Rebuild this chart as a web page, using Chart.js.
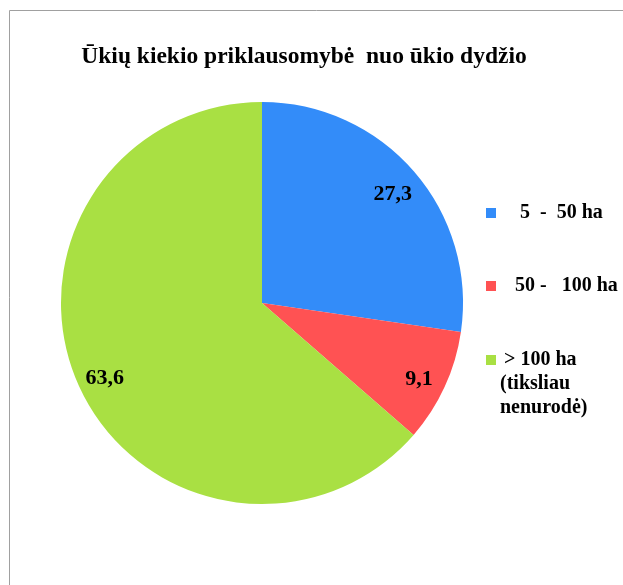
<!DOCTYPE html>
<html>
<head>
<meta charset="utf-8">
<script src="https://cdn.jsdelivr.net/npm/chart.js@4/dist/chart.umd.min.js"></script>
<style>
  html, body { margin: 0; padding: 0; background: #fff; }
  #wrap { width: 623px; height: 585px; position: relative; }
</style>
</head>
<body>
<div id="wrap"><canvas id="chart"></canvas></div>
<script>
// data
let titleText = "Ūkių kiekio priklausomybė  nuo ūkio dydžio";
let categories = ["   5  -  50 ha", "  50 -   100 ha", ["> 100 ha", "(tiksliau", "nenurodė)"]];
let shares = [27.3, 9.1, 63.6];
let colors = ["#338cf9", "#ff5253", "#a9e043"];

let serif = "'Liberation Serif', 'Times New Roman', serif";

// frame, title, value labels and the legend are drawn here
let decorPlugin = {
  id: "decor",
  beforeDraw(chart) {
    let ctx = chart.ctx;
    ctx.save();
    ctx.strokeStyle = "#a0a0a0";
    ctx.lineWidth = 1;
    ctx.beginPath();
    ctx.moveTo(9.5, 585);
    ctx.lineTo(9.5, 10.5);
    ctx.lineTo(623, 10.5);
    ctx.stroke();

    ctx.fillStyle = "#000";
    ctx.font = "bold 23.5px " + serif;
    ctx.textAlign = "center";
    ctx.textBaseline = "alphabetic";
    ctx.fillText(titleText, 304, 63);
    ctx.restore();
  },
  afterDatasetsDraw(chart) {
    let ctx = chart.ctx;
    let meta = chart.getDatasetMeta(0);
    ctx.save();
    ctx.fillStyle = "#000";
    ctx.font = "bold 22px " + serif;
    ctx.textAlign = "center";
    ctx.textBaseline = "middle";
    meta.data.forEach((arc, i) => {
      let mid = (arc.startAngle + arc.endAngle) / 2;
      let r = arc.outerRadius * 0.86;
      let x = arc.x + Math.cos(mid) * r;
      let y = arc.y + Math.sin(mid) * r + 4;
      ctx.fillText(String(shares[i]).replace(".", ","), x, y);
    });

    // legend
    let tops = [213, 286, 360];
    ctx.font = "bold 20px " + serif;
    ctx.textAlign = "left";
    categories.forEach((lab, i) => {
      ctx.fillStyle = colors[i];
      ctx.fillRect(486, tops[i] - 5, 10, 10);
      ctx.fillStyle = "#000";
      let lines = Array.isArray(lab) ? lab : [lab];
      lines.forEach((line, j) => {
        let x = lines.length === 1 ? 505 : (j === 0 ? 504 : 500);
        ctx.fillText(line, x, tops[i] + j * 24);
      });
    });
    ctx.restore();
  }
};

new Chart(document.getElementById("chart"), {
  type: "pie",
  data: {
    labels: categories,
    datasets: [{
      data: shares,
      backgroundColor: colors,
      borderWidth: 0
    }]
  },
  options: {
    responsive: true,
    maintainAspectRatio: false,
    animation: false,
    layout: { padding: { left: 61, right: 160, top: 102, bottom: 81 } },
    plugins: {
      legend: { display: false },
      tooltip: { enabled: false },
      title: { display: false }
    }
  },
  plugins: [decorPlugin]
});
</script>
</body>
</html>
